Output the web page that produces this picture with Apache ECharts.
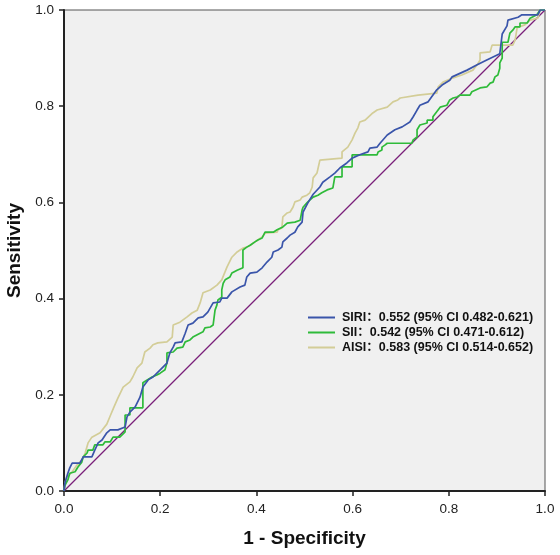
<!DOCTYPE html>
<html><head><meta charset="utf-8">
<script src="https://cdn.jsdelivr.net/npm/echarts@6/dist/echarts.min.js"></script>
<style>html,body{margin:0;padding:0;background:#fff}#c{width:560px;height:555px}</style>
</head><body><div id="c"></div>
<script>
var axisTicks = [0, 0.2, 0.4, 0.6, 0.8, 1.0];
var seriesNames = ['SIRI\uff1a0.552 (95% CI 0.482-0.621)', 'SII\uff1a0.542 (95% CI 0.471-0.612)', 'AISI\uff1a0.583 (95% CI 0.514-0.652)'];
var siriPoints = [[0,0],[0.002,0.017],[0.008,0.037],[0.012,0.048],[0.017,0.058],[0.033,0.058],[0.040,0.071],[0.058,0.071],[0.064,0.085],[0.071,0.100],[0.079,0.106],[0.089,0.121],[0.096,0.127],[0.112,0.127],[0.127,0.133],[0.131,0.154],[0.137,0.164],[0.148,0.175],[0.158,0.195],[0.164,0.216],[0.175,0.231],[0.185,0.237],[0.200,0.252],[0.214,0.266],[0.220,0.287],[0.227,0.299],[0.231,0.308],[0.245,0.310],[0.252,0.328],[0.258,0.345],[0.268,0.349],[0.279,0.360],[0.289,0.362],[0.299,0.372],[0.310,0.391],[0.324,0.393],[0.328,0.401],[0.339,0.401],[0.349,0.414],[0.366,0.424],[0.376,0.428],[0.380,0.445],[0.387,0.453],[0.401,0.455],[0.412,0.464],[0.422,0.476],[0.432,0.486],[0.435,0.497],[0.445,0.501],[0.453,0.507],[0.455,0.518],[0.464,0.526],[0.470,0.532],[0.480,0.538],[0.486,0.549],[0.495,0.559],[0.497,0.580],[0.507,0.599],[0.518,0.617],[0.532,0.632],[0.538,0.642],[0.553,0.653],[0.563,0.661],[0.574,0.672],[0.588,0.682],[0.599,0.692],[0.615,0.699],[0.632,0.705],[0.636,0.713],[0.651,0.715],[0.657,0.723],[0.672,0.740],[0.688,0.751],[0.703,0.757],[0.719,0.767],[0.726,0.778],[0.734,0.792],[0.740,0.802],[0.757,0.809],[0.775,0.834],[0.786,0.844],[0.802,0.854],[0.807,0.861],[0.838,0.875],[0.859,0.886],[0.879,0.896],[0.906,0.909],[0.911,0.950],[0.921,0.967],[0.923,0.979],[0.944,0.985],[0.952,0.990],[0.985,0.990],[0.990,1.0],[1,1]];
var siiPoints = [[0,0],[0.002,0.012],[0.008,0.023],[0.012,0.037],[0.023,0.040],[0.029,0.050],[0.037,0.060],[0.040,0.071],[0.048,0.079],[0.050,0.085],[0.060,0.085],[0.064,0.096],[0.081,0.096],[0.085,0.102],[0.096,0.102],[0.102,0.112],[0.116,0.112],[0.127,0.123],[0.127,0.158],[0.137,0.158],[0.137,0.173],[0.164,0.173],[0.164,0.225],[0.173,0.231],[0.183,0.237],[0.193,0.241],[0.200,0.245],[0.210,0.252],[0.214,0.266],[0.214,0.287],[0.227,0.289],[0.235,0.297],[0.247,0.299],[0.252,0.310],[0.262,0.314],[0.268,0.320],[0.279,0.326],[0.289,0.331],[0.293,0.339],[0.304,0.341],[0.310,0.345],[0.314,0.376],[0.318,0.387],[0.320,0.397],[0.328,0.403],[0.328,0.418],[0.331,0.432],[0.335,0.439],[0.345,0.445],[0.349,0.453],[0.360,0.459],[0.372,0.464],[0.372,0.501],[0.380,0.507],[0.387,0.511],[0.397,0.518],[0.403,0.522],[0.412,0.526],[0.418,0.538],[0.435,0.538],[0.443,0.543],[0.455,0.549],[0.464,0.557],[0.480,0.559],[0.491,0.563],[0.495,0.584],[0.497,0.590],[0.505,0.599],[0.511,0.605],[0.518,0.611],[0.528,0.615],[0.536,0.620],[0.547,0.626],[0.559,0.630],[0.563,0.653],[0.578,0.653],[0.578,0.674],[0.599,0.674],[0.599,0.699],[0.651,0.699],[0.653,0.705],[0.661,0.709],[0.661,0.715],[0.667,0.719],[0.672,0.723],[0.723,0.723],[0.726,0.730],[0.734,0.736],[0.734,0.751],[0.740,0.761],[0.755,0.765],[0.755,0.771],[0.767,0.771],[0.767,0.778],[0.782,0.798],[0.796,0.802],[0.802,0.813],[0.809,0.817],[0.817,0.819],[0.823,0.823],[0.844,0.823],[0.848,0.830],[0.865,0.838],[0.879,0.840],[0.886,0.848],[0.892,0.850],[0.896,0.861],[0.902,0.865],[0.906,0.879],[0.906,0.890],[0.911,0.900],[0.911,0.933],[0.923,0.933],[0.927,0.952],[0.933,0.958],[0.938,0.965],[0.948,0.965],[0.948,0.973],[0.963,0.973],[0.969,0.983],[0.983,0.990],[0.990,1.0],[1,1]];
var aisiPoints = [[0,0],[0.002,0.017],[0.006,0.029],[0.017,0.040],[0.027,0.054],[0.037,0.064],[0.044,0.079],[0.050,0.100],[0.058,0.112],[0.075,0.121],[0.089,0.139],[0.096,0.156],[0.104,0.175],[0.112,0.193],[0.123,0.216],[0.137,0.227],[0.143,0.237],[0.152,0.256],[0.162,0.266],[0.168,0.289],[0.179,0.297],[0.185,0.304],[0.195,0.308],[0.214,0.310],[0.225,0.320],[0.227,0.345],[0.241,0.351],[0.256,0.362],[0.266,0.370],[0.277,0.376],[0.283,0.391],[0.289,0.412],[0.304,0.418],[0.318,0.428],[0.328,0.439],[0.339,0.466],[0.349,0.486],[0.360,0.497],[0.366,0.501],[0.372,0.505],[0.380,0.507],[0.387,0.511],[0.397,0.518],[0.403,0.522],[0.412,0.528],[0.418,0.536],[0.422,0.538],[0.443,0.538],[0.445,0.543],[0.453,0.547],[0.455,0.570],[0.464,0.578],[0.470,0.580],[0.476,0.590],[0.480,0.601],[0.491,0.605],[0.495,0.611],[0.505,0.615],[0.511,0.620],[0.516,0.632],[0.518,0.651],[0.526,0.661],[0.532,0.688],[0.578,0.692],[0.578,0.705],[0.590,0.715],[0.599,0.730],[0.605,0.744],[0.611,0.755],[0.615,0.767],[0.626,0.771],[0.642,0.786],[0.651,0.792],[0.672,0.798],[0.684,0.809],[0.694,0.813],[0.699,0.817],[0.736,0.823],[0.740,0.827],[0.775,0.827],[0.778,0.840],[0.788,0.850],[0.809,0.859],[0.827,0.865],[0.850,0.875],[0.859,0.886],[0.865,0.896],[0.865,0.911],[0.886,0.913],[0.890,0.927],[0.933,0.927],[0.938,0.938],[0.942,0.963],[0.958,0.969],[0.969,0.979],[0.985,0.983],[0.990,1.0],[1,1]];
var refPoints = [[0,0],[1,1]];

var chart = echarts.init(document.getElementById('c'), null, {renderer:'canvas'});
var font = 'Arial, "Liberation Sans", "Noto Sans CJK SC", sans-serif';
function axisCfg(name, isY){
  return {
    type:'value', min:0, max:1, interval:0.2,
    name:name, nameLocation:'middle', nameGap: isY ? 40 : 38,
    nameTextStyle:{fontFamily:font, fontWeight:'bold', fontSize:19, color:'#111'},
    axisLine:{show:true, onZero:false, lineStyle:{color:'#222', width:2}},
    axisTick:{show:true, length:5, lineStyle:{color:'#222', width:1.5}},
    axisLabel:{fontFamily:font, fontSize:13.5, color:'#222', margin: isY ? 10 : 12,
      formatter:function(v){return v.toFixed(1);}},
    splitLine:{show:false}
  };
}
chart.setOption({
  animation:false,
  backgroundColor:'#ffffff',
  grid:{left:64, right:15, top:10, bottom:64, outerBoundsMode:'none', containLabel:false, show:true, backgroundColor:'#f0f0f0', borderColor:'#555', borderWidth:1},
  xAxis: axisCfg('1 - Specificity', false),
  yAxis: axisCfg('Sensitivity', true),
  legend:{
    data: seriesNames, orient:'vertical', left:308, top:311, itemGap:2, padding:0,
    icon:'rect', itemWidth:27, itemHeight:2,
    textStyle:{fontFamily:font, fontWeight:'bold', fontSize:12.5, lineHeight:13, color:'#111', padding:[0,0,0,2]}
  },
  series:[
    {type:'line', name:'ref', data:refPoints, symbol:'none', lineStyle:{color:'#7a1f7a', width:1.3}, itemStyle:{color:'#7a1f7a'}, z:1},
    {type:'line', name:seriesNames[2], data:aisiPoints, symbol:'none', lineStyle:{color:'#d3cd97', width:1.7}, itemStyle:{color:'#d3cd97'}, z:2},
    {type:'line', name:seriesNames[1], data:siiPoints, symbol:'none', lineStyle:{color:'#2fbb3a', width:1.7}, itemStyle:{color:'#2fbb3a'}, z:3},
    {type:'line', name:seriesNames[0], data:siriPoints, symbol:'none', lineStyle:{color:'#3a55aa', width:1.7}, itemStyle:{color:'#3a55aa'}, z:4}
  ]
});
</script></body></html>
